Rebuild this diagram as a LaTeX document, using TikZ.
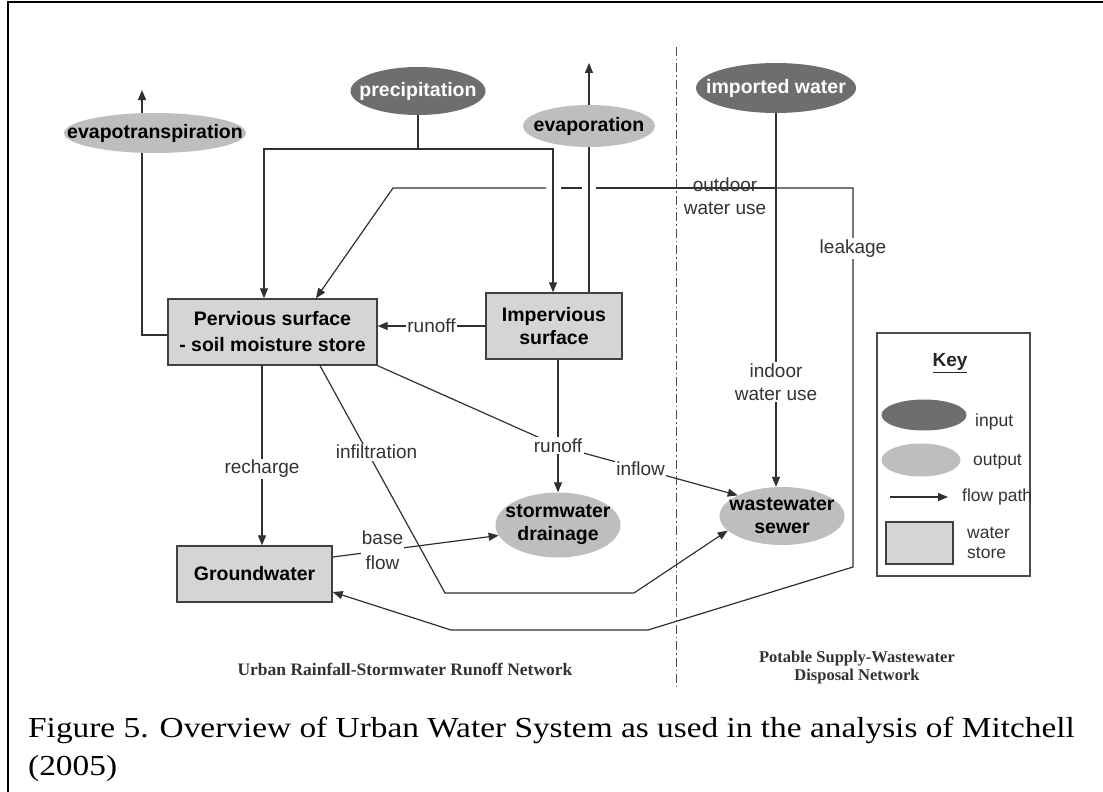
\documentclass[tikz,border=0pt]{standalone}
\usepackage{graphicx}
\usepackage{fontspec}
\setmainfont{Liberation Serif}
\setsansfont{Liberation Sans}
\usetikzlibrary{shapes.geometric,arrows.meta,calc}

\definecolor{inputgray}{HTML}{6E6E6E}
\definecolor{outputgray}{HTML}{BEBEBE}
\definecolor{storegray}{HTML}{D5D5D5}
\definecolor{wiregray}{HTML}{303030}
\definecolor{labelgray}{HTML}{333333}

\newcommand\bxfont{\sffamily\bfseries\fontsize{19.5}{23}\selectfont}
\newcommand\lbfont{\sffamily\fontsize{19}{23}\selectfont}
\newcommand\kyfont{\sffamily\fontsize{17.5}{20}\selectfont}
\newcommand\netfont{\rmfamily\bfseries\fontsize{16.5}{18}\selectfont}
\newcommand\capfont{\rmfamily\fontsize{29}{38}\selectfont}

\begin{document}
\begin{tikzpicture}[x=1pt,y=-1pt,
  wire/.style={draw=wiregray, line width=1.2pt},
  flow/.style={wire, -{Triangle[length=10pt,width=8pt]}},
  storebox/.style={rectangle, draw=black!75, line width=1.4pt, fill=storegray,
    font=\bxfont, align=center, inner sep=0pt, text=black},
  inputnode/.style={ellipse, fill=inputgray, draw=none, inner sep=0pt},
  outputnode/.style={ellipse, fill=outputgray, draw=none, inner sep=0pt},
  intext/.style={font=\bxfont, text=white, align=center, inner sep=0pt},
  outtext/.style={font=\bxfont, text=black, align=center, inner sep=0pt},
  lbl/.style={fill=white, inner sep=1.5pt, text=labelgray, font=\lbfont, align=center},
  keytext/.style={font=\kyfont, text=labelgray, anchor=west, align=left, inner sep=0pt},
  divider/.style={draw=black!70, line width=0.8pt, dash pattern=on 9pt off 3pt on 1.5pt off 3pt},
]
\useasboundingbox (0,0) rectangle (1103,792);
\fill[white] (0,0) rectangle (1103,792);

% page frame (left and top edges visible)
\draw[line width=2pt] (8,792) -- (8,2) -- (1103,2);

% ---------- stores ----------
\node[storebox, minimum width=209pt, minimum height=66pt, font=\sffamily\bfseries\fontsize{19.5}{26}\selectfont]
  (pervious) at (272.5,332) {Pervious surface\\- soil moisture store};
\node[storebox, minimum width=136pt, minimum height=66pt] (imperv) at (554,326) {Impervious\\surface};
\node[storebox, minimum width=155pt, minimum height=56pt] (ground) at (254.5,574) {Groundwater};

% ---------- inputs and outputs ----------
\node[outputnode, minimum width=182pt, minimum height=40pt] (evapo) at (155,133) {};
\node[outtext] (evapo-t) at (evapo) {evapotranspiration};
\node[inputnode, minimum width=135pt, minimum height=48pt] (precip) at (418,91) {};
\node[intext] (precip-t) at (precip) {precipitation};
\node[outputnode, minimum width=132pt, minimum height=42pt] (evapor) at (589,126) {};
\node[outtext] (evapor-t) at (evapor) {evaporation};
\node[inputnode, minimum width=160pt, minimum height=50pt] (imported) at (776,88) {};
\node[intext] (imported-t) at (imported) {imported water};
\node[outputnode, minimum width=125pt, minimum height=65pt] (storm) at (558,525) {};
\node[outtext] (storm-t) at (storm) {stormwater\\drainage};
\node[outputnode, minimum width=125pt, minimum height=58pt] (waste) at (782,516) {};
\node[outtext] (waste-t) at (waste) {wastewater\\sewer};

% ---------- helper points ----------
\coordinate (etTop) at (142,90);
\coordinate (epTop) at (589,63);
\coordinate (pj) at (418,149);
\coordinate (ojunc) at (776,188);
\coordinate (oleft) at (393,188);
\coordinate (lcorner) at (853,188);
\coordinate (lbot) at (853,567);
\coordinate (lb1) at (648,630);
\coordinate (lb2) at (451,630);
\coordinate (g2a) at (596,188);
\coordinate (g2b) at (582,188);
\coordinate (g1a) at (561,188);
\coordinate (g1b) at (546,188);
\coordinate (rj) at (558,446);
\coordinate (ib1) at (445,593);
\coordinate (ib2) at (634,593);
\coordinate (rtop) at ([xshift=-10.5pt]pervious.south);
\coordinate (divtop) at (676,47);
\coordinate (divbot) at (676,687);

% ---------- network divider ----------
\draw[divider] (divtop) -- (divbot);

% ---------- flows ----------
% evapotranspiration
\draw[wire] ([yshift=-3pt]pervious.west) -| ([xshift=-13pt]evapo.south);
\draw[flow] ([xshift=-13pt]evapo.north) -- (etTop);
% precipitation onto both surfaces
\draw[wire] (precip.south) -- (pj);
\draw[flow] (pj) -| ([xshift=-8.5pt]pervious.north);
\draw[flow] (pj) -| ([xshift=-1pt]imperv.north);
% evaporation
\draw[wire] (imperv.north -| evapor.south) -- (evapor.south);
\draw[flow] (evapor.north) -- (epTop);
% outdoor water use, broken where it crosses the vertical flows
\draw[wire] (ojunc) -- (g2a);
\draw[wire] (g2b) -- (g1a);
\draw[flow] (g1b) -- (oleft) -- ([xshift=43.5pt]pervious.north);
% leakage
\draw[flow] (ojunc) -- (lcorner) -- node[lbl, pos=0.16] (leak-l) {leakage} (lbot)
  -- (lb1) -- (lb2) -- ([yshift=-18pt]ground.east);
% indoor water use
\draw[flow] (imported.south) -- node[lbl, pos=0.72] (indoor-l) {indoor\\water use} (imported.south |- waste.north);
% runoff from impervious to pervious surface
\draw[flow] (imperv.west) -- node[lbl, midway] (run1-l) {runoff} (imperv.west -| pervious.east);
% pervious runoff joining, then inflow to sewer
\draw[flow] (pervious.south east) -- (rj) -- node[lbl, pos=0.46] (inflow-l) {inflow} (waste.155);
% runoff to stormwater drainage
\draw[flow] (imperv.south -| storm.north) -- node[lbl, pos=0.65] (run2-l) {runoff} (storm.north);
% recharge
\draw[flow] (rtop) -- node[lbl, pos=0.575] (rech-l) {recharge} (rtop |- ground.north);
% base flow
\draw[flow] ([yshift=17pt]ground.east) -- node[lbl, pos=0.3, inner sep=0.5pt, font=\sffamily\fontsize{19}{25}\selectfont] (base-l) {base\\flow} (storm.190);
% infiltration
\draw[flow] ([xshift=47.5pt]pervious.south) -- node[lbl, pos=0.38, xshift=9pt] (infil-l) {infiltration} (ib1) -- (ib2) -- (waste.195);

% outdoor water use label
\node[font=\lbfont, text=labelgray, align=center, inner sep=0pt] (outdoor-l) at (725,196) {outdoor\\water use};

% ---------- key ----------
\node[rectangle, draw=black!70, line width=1.4pt, minimum width=153pt, minimum height=243pt, inner sep=0pt] (key) at (953.5,454.5) {};
\node[font=\sffamily\bfseries\fontsize{19}{22}\selectfont, text=black!85, inner sep=0pt] (key-t) at (950,363) {\underline{Key}};
\node[inputnode, minimum width=85pt, minimum height=31pt] (key-in) at (924,415) {};
\node[keytext] (key-in-t) at (975,422) {input};
\node[outputnode, minimum width=79pt, minimum height=33pt] (key-out) at (921,460) {};
\node[keytext] (key-out-t) at (973,462) {output};
\coordinate (karr1) at (890,497);
\coordinate (karr2) at (948,497);
\draw[flow] (karr1) -- (karr2);
\node[keytext] (key-flow-t) at (962,497) {flow path};
\node[storebox, minimum width=67pt, minimum height=42pt] (key-store) at (919.5,543) {};
\node[keytext] (key-store-t) at (967,543) {water\\store};

% ---------- network names ----------
\node[font=\rmfamily\bfseries\fontsize{17.5}{18}\selectfont, text=black!80, inner sep=0pt] (net1) at (405,669) {Urban Rainfall-Stormwater Runoff Network};
\node[font=\netfont, text=black!80, align=center, inner sep=0pt] (net2) at (857,668) {Potable Supply-Wastewater\\Disposal Network};

% ---------- caption ----------
\node[anchor=base west, inner sep=0pt, font=\capfont] (cap1) at (28,737)
  {\scalebox{1.15}[1]{Figure 5. Overview of Urban Water System as used in the analysis of Mitchell}};
\node[anchor=base west, inner sep=0pt, font=\capfont] (cap2) at (28,775)
  {\scalebox{1.15}[1]{(2005)}};
\end{tikzpicture}
\end{document}
